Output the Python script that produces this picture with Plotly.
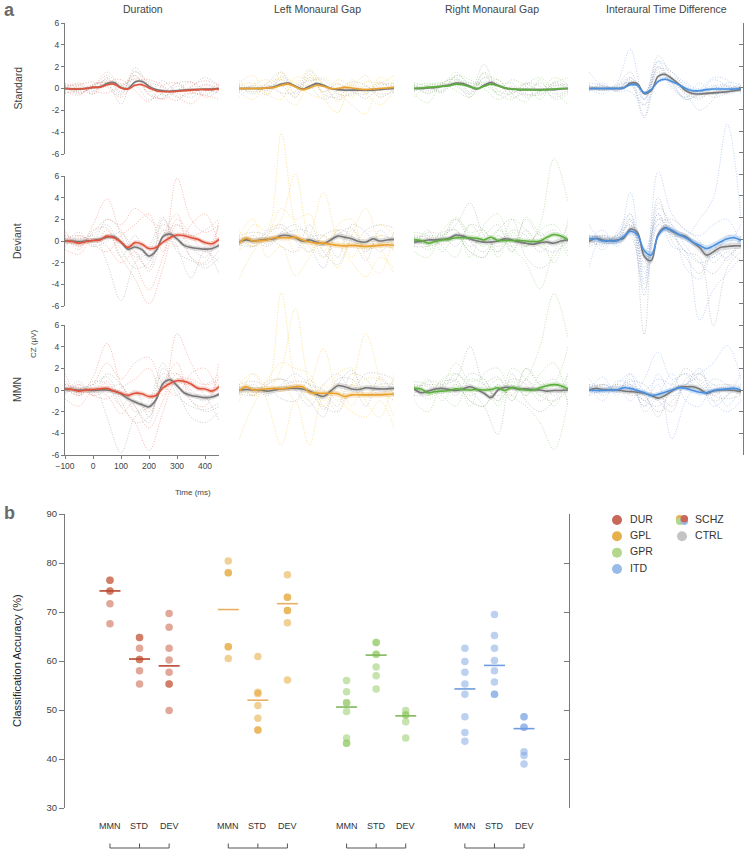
import plotly.graph_objects as go

W, H = 745, 850
FONT = "Liberation Sans, Arial, sans-serif"


def fx(p):
    return p / W


def fy(p):
    return 1 - p / H


# ---------------------------------------------------------------- panel a data
T_MEAN = list(range(-100, 451, 25))   # 23 samples for group means
T_IND = list(range(-100, 451, 50))    # 12 samples for single-subject traces

CONDS = ["DUR", "GPL", "GPR", "ITD"]
TITLES = ["Duration", "Left Monaural Gap", "Right Monaural Gap", "Interaural Time Difference"]
ROW_KEYS = ["STD", "DEV", "MMN"]
ROW_LABELS = ["Standard", "Deviant", "MMN"]
Y_TICKS = [-6, -4, -2, 0, 2, 4, 6]
X_TICKS = [-100, 0, 100, 200, 300, 400]

# group means (µV)
DUR_STD_SCHZ = [0, -0.05, -0.05, 0, 0.1, 0.12, 0.35, 0.4, 0.05, -0.05, 0.3, 0.35, 0.05, -0.2, -0.28, -0.3, -0.25, -0.2, -0.15, -0.1, -0.1, -0.1, -0.05]
DUR_STD_CTRL = [0, -0.05, -0.05, 0, 0.1, 0.15, 0.45, 0.55, 0.1, 0.0, 0.6, 0.65, 0.2, -0.1, -0.2, -0.25, -0.2, -0.15, -0.1, -0.1, -0.05, -0.05, 0.0]
DUR_DEV_SCHZ = [0, -0.05, -0.2, -0.05, 0.05, 0.1, 0.45, 0.3, -0.1, -0.6, -0.15, -0.3, -0.7, -0.6, -0.1, 0.3, 0.55, 0.5, 0.3, 0.15, -0.15, -0.25, 0.15]
DUR_DEV_CTRL = [0, 0, -0.05, 0, 0.05, 0.15, 0.35, 0.4, -0.1, -0.75, -0.55, -0.8, -1.4, -0.9, 0.4, 0.65, 0.2, -0.4, -0.6, -0.7, -0.75, -0.7, -0.4]
DUR_MMN_SCHZ = [0.1, 0.05, -0.1, 0.0, 0.05, 0.1, 0.15, -0.1, -0.3, -0.5, -0.3, -0.35, -0.6, -0.5, 0.2, 0.6, 0.85, 0.8, 0.55, 0.15, 0.1, -0.1, 0.3]
DUR_MMN_CTRL = [0.05, 0.05, 0.0, 0.0, -0.05, 0.0, 0.0, -0.1, -0.35, -0.8, -1.1, -1.35, -1.55, -0.9, 0.6, 0.95, 0.4, -0.25, -0.5, -0.6, -0.7, -0.65, -0.4]

GPL_STD_SCHZ = [0, 0, 0, 0, 0.05, 0.1, 0.3, 0.4, 0.15, -0.1, 0.05, 0.3, 0.2, 0.0, 0.0, 0.1, 0.05, -0.05, -0.1, -0.05, 0.0, 0.05, 0.1]
GPL_STD_CTRL = [0, 0, 0, 0, 0.05, 0.15, 0.4, 0.5, 0.2, -0.05, 0.2, 0.45, 0.3, 0.0, -0.1, -0.15, -0.15, -0.15, -0.15, -0.15, -0.1, -0.05, 0.0]
GPL_DEV_SCHZ = [-0.2, 0.25, 0.0, 0.05, 0.1, 0.3, 0.3, 0.3, 0.35, 0.1, -0.1, -0.2, -0.2, -0.3, -0.4, -0.45, -0.4, -0.45, -0.5, -0.45, -0.4, -0.35, -0.4]
GPL_DEV_CTRL = [-0.1, 0.1, 0.0, 0.1, 0.15, 0.2, 0.5, 0.5, 0.3, 0.0, 0.1, -0.1, -0.25, 0.1, 0.45, 0.35, 0.2, -0.05, -0.1, 0.2, 0.0, 0.1, 0.15]
GPL_MMN_SCHZ = [-0.1, 0.3, 0.0, 0.05, 0.1, 0.15, 0.1, 0.2, 0.3, 0.3, -0.2, -0.3, -0.3, -0.3, -0.35, -0.6, -0.45, -0.45, -0.45, -0.45, -0.45, -0.4, -0.4]
GPL_MMN_CTRL = [0.0, 0.05, 0.0, 0.0, -0.1, 0.0, 0.1, 0.15, 0.15, 0.1, -0.1, -0.4, -0.6, -0.1, 0.4, 0.3, 0.1, 0.05, 0.2, 0.15, 0.1, 0.1, 0.15]

GPR_STD_SCHZ = [0, 0.05, 0.1, 0.15, 0.2, 0.25, 0.4, 0.35, 0.15, 0.0, 0.2, 0.4, 0.25, 0.05, -0.05, -0.1, -0.1, -0.12, -0.15, -0.1, -0.05, 0.0, 0.0]
GPR_STD_CTRL = [0, 0, 0.05, 0.1, 0.2, 0.3, 0.5, 0.45, 0.2, -0.05, 0.3, 0.55, 0.3, 0.05, -0.05, -0.1, -0.1, -0.1, -0.1, -0.1, -0.1, -0.05, 0.0]
GPR_DEV_SCHZ = [0.1, 0.05, -0.2, -0.05, 0.1, 0.15, 0.3, 0.3, 0.3, 0.25, 0.1, 0.35, 0.05, 0.05, 0.05, 0.05, 0.0, -0.05, 0.0, 0.35, 0.6, 0.45, 0.1]
GPR_DEV_CTRL = [-0.1, -0.05, 0.1, 0.1, 0.15, 0.25, 0.55, 0.45, 0.2, 0.0, -0.1, -0.1, 0.0, 0.2, 0.1, -0.1, -0.2, -0.3, -0.15, -0.1, -0.2, 0.0, 0.1]
GPR_MMN_SCHZ = [0.15, 0.1, -0.25, -0.15, -0.1, -0.05, 0.1, 0.05, 0.0, 0.05, 0.0, 0.05, 0.2, -0.05, 0.25, 0.1, 0.0, 0.0, 0.2, 0.4, 0.5, 0.4, 0.1]
GPR_MMN_CTRL = [0.1, -0.25, -0.1, 0.1, 0.15, 0.05, -0.05, 0.1, 0.3, 0.05, -0.3, -0.7, 0.0, 0.25, 0.2, 0.1, 0.1, 0.05, 0.0, -0.1, -0.05, -0.05, 0.0]

ITD_STD_SCHZ = [0, 0, 0, 0, 0, 0.05, 0.35, 0.3, -0.4, -0.1, 0.65, 0.85, 0.65, 0.35, 0.0, -0.2, -0.2, -0.1, -0.05, -0.05, -0.05, -0.05, 0.0]
ITD_STD_CTRL = [0, 0, 0, 0, 0, 0.05, 0.5, 0.45, -0.45, -0.2, 1.1, 1.3, 0.9, 0.4, -0.2, -0.45, -0.5, -0.45, -0.4, -0.35, -0.3, -0.2, -0.1]
ITD_DEV_SCHZ = [0.2, 0.2, 0.0, 0.0, 0.0, 0.4, 0.9, 0.6, -0.9, -1.3, 0.5, 1.15, 1.0, 0.6, 0.3, -0.1, -0.4, -0.7, -0.45, -0.1, 0.2, 0.3, 0.05]
ITD_DEV_CTRL = [-0.05, 0.25, 0.1, 0.05, 0.1, 0.25, 1.1, 0.8, -1.4, -1.8, 0.6, 1.25, 0.9, 0.6, 0.4, -0.1, -0.6, -1.3, -1.0, -0.6, -0.5, -0.45, -0.45]
ITD_MMN_SCHZ = [0, -0.05, -0.05, 0.0, 0.0, 0.2, 0.15, -0.05, -0.25, -0.5, -0.4, -0.2, 0.0, 0.2, 0.15, -0.05, -0.2, -0.25, -0.05, 0.05, 0.1, 0.15, 0.0]
ITD_MMN_CTRL = [0, 0.15, 0.05, 0.0, 0.0, -0.1, -0.15, -0.2, -0.3, -0.5, -0.75, -0.5, -0.1, 0.25, 0.3, 0.3, 0.1, -0.3, -0.1, 0.0, 0.0, -0.05, -0.15]

# standard-error half widths of the shaded bands, per condition
SEM_STD = [0.12, 0.12, 0.12, 0.15]
SEM_DEV = [0.22, 0.25, 0.22, 0.3]
SEM_MMN = [0.22, 0.25, 0.22, 0.22]

# single-subject traces (dotted), sampled every 50 ms
DUR_STD_SCHZ_IND = [[0.3, -0.4, 0.2, 1.5, 0.4, 1.2, -0.6, -0.9, 0.5, -0.5, 0.3, -0.2],
                    [-0.5, 0.3, 0.6, 0.1, -0.8, 0.6, 0.8, 0.2, -0.7, -1.4, -0.3, 0.4],
                    [0.4, 0.1, -0.5, 1.0, -0.3, 1.6, 0.0, -1.0, -0.2, 0.6, -0.8, -0.1],
                    [-0.2, -0.6, 0.3, 0.6, 0.8, -0.2, -1.2, 0.3, 0.5, -0.3, -0.6, -1.0],
                    [0.1, 0.5, -0.2, -0.4, 0.2, 0.9, 0.4, -0.5, -1.1, 0.2, 0.7, 0.3]]
DUR_STD_CTRL_IND = [[0.2, 0.3, -0.3, 0.9, -0.5, 1.9, 0.3, -0.6, -0.3, 0.1, 1.0, 0.2],
                    [-0.4, -0.2, 0.4, 0.5, -1.4, 1.2, -0.3, 0.7, -0.4, -0.8, -0.2, -0.3],
                    [0.5, -0.3, 0.1, 1.2, 0.3, 0.8, -0.5, -0.9, 0.2, -0.2, 0.4, 0.0],
                    [-0.1, 0.4, -0.5, 0.2, -0.6, 1.5, 0.6, 0.1, -0.8, -0.4, -0.6, 0.3],
                    [0.2, -0.5, 0.3, 0.7, 0.2, 0.3, -1.0, -0.4, 0.5, 0.6, -0.1, -0.4]]
DUR_DEV_SCHZ_IND = [[0.5, -0.8, 1.5, 3.9, 0.5, -2.0, -4.5, -1.5, 2.0, 0.5, -1.0, 1.5],
                    [-0.5, 0.3, -0.5, 1.0, -1.5, -3.5, -5.8, -2.5, 1.5, 0.5, 1.0, 2.0],
                    [0.2, 0.5, -0.3, -1.0, 0.5, 1.5, 2.5, -1.0, 5.8, 2.0, 0.8, 1.5],
                    [1.0, -0.5, 0.8, 2.0, 1.5, 3.0, 2.0, 1.0, -0.5, 1.5, 2.5, -0.5],
                    [-0.8, -1.2, 0.2, -0.5, -2.0, -1.0, -2.8, 0.5, 2.5, -1.5, -2.0, 1.8]]
DUR_DEV_CTRL_IND = [[0.3, -0.5, 0.5, -2.0, -5.5, -2.0, -1.0, 1.5, 0.5, -1.5, -2.5, -1.5],
                    [-0.5, 0.5, 0.0, 2.0, 1.0, -1.0, -2.5, 2.0, -0.5, -3.4, -1.0, -2.0],
                    [0.8, -0.3, 1.0, 1.2, -1.5, 0.5, -1.8, 0.5, 1.5, -0.5, -1.5, 0.5],
                    [-0.2, 0.8, -0.5, 0.0, 0.8, -1.5, -0.5, 2.2, -1.0, -1.8, -2.2, -0.8],
                    [0.5, 0.2, 0.6, 1.5, -0.8, -2.5, -2.0, 1.0, 0.5, 0.5, -0.5, -3.0]]
DUR_MMN_SCHZ_IND = [[0.2, -0.5, 1.2, 4.3, 0.5, -1.5, -3.5, -1.0, 1.5, 0.0, -0.8, 1.2],
                    [-0.3, 0.5, -0.5, 0.8, -1.5, -3.0, -5.6, -2.0, 1.0, 1.0, 0.5, 1.5],
                    [0.5, 0.2, -0.5, -0.8, 0.2, 1.0, 2.0, -0.5, 5.2, 2.5, 0.5, 1.0],
                    [1.5, -0.5, 0.5, 2.5, 1.0, 2.5, 3.0, 0.5, -0.5, 1.5, 2.0, -0.5],
                    [-0.8, -1.5, 0.0, -0.5, -2.2, -1.0, -2.0, 0.5, 2.5, -1.0, -1.5, 2.5]]
DUR_MMN_CTRL_IND = [[0.2, -0.5, 0.5, -2.5, -5.8, -2.5, -1.5, 1.5, 0.5, -1.0, -2.0, -1.5],
                    [-0.5, 0.5, -0.3, 1.5, 0.5, -1.5, -3.0, 2.0, 0.0, -2.5, -3.0, -2.0],
                    [0.8, -0.3, 0.8, 0.5, -1.5, 0.0, -2.5, 1.0, 1.5, -0.3, -1.0, 0.5],
                    [-0.3, 0.8, -0.5, 0.0, 0.5, -2.0, -1.0, 2.5, -0.5, -1.5, -1.8, -1.2],
                    [0.5, 0.2, 0.5, 1.2, -1.0, -3.0, -2.5, 0.5, 0.5, 0.8, -0.5, -2.8]]

GPL_STD_SCHZ_IND = [[0.5, 1.2, -0.5, 1.5, 0.3, 1.8, -0.8, -2.2, 0.5, -0.5, 1.0, 0.3],
                    [-0.8, 0.3, 0.8, -0.5, -1.5, 0.5, 1.0, -0.3, -1.5, -2.3, 0.5, -0.5],
                    [0.8, -0.3, 0.2, 1.0, 0.5, -0.5, -0.8, 0.8, 0.3, 1.2, -0.8, 0.8],
                    [-0.3, -1.0, 0.5, 0.8, -0.8, 1.0, 0.5, -1.2, 0.8, -0.5, -1.5, -0.3],
                    [0.3, 0.5, -0.5, -1.0, 1.0, 0.8, -0.3, 0.5, -0.8, 0.6, 0.5, 1.2]]
GPL_STD_CTRL_IND = [[0.2, -0.3, 0.5, 1.5, -0.5, 1.3, -0.5, -0.8, 0.3, -0.3, 0.4, 0.2],
                    [-0.4, 0.3, -0.2, 0.8, 0.3, 0.7, 0.8, -0.5, -0.6, 0.2, -0.5, -0.3],
                    [0.3, -0.5, 0.2, 0.3, -0.8, 1.0, -0.3, 0.4, -0.2, -0.9, 0.2, 0.5],
                    [-0.2, 0.2, -0.6, 1.1, 0.2, 0.2, -1.0, -0.2, 0.6, 0.3, -0.8, -0.1],
                    [0.4, 0.0, 0.3, -0.4, -0.3, 1.6, 0.3, -1.0, -0.4, -0.5, 0.6, -0.4]]
GPL_DEV_SCHZ_IND = [[-1.0, 1.5, 1.0, 9.9, 1.5, -1.0, 0.5, -0.5, 1.0, -0.5, 0.5, -1.0],
                    [0.5, -0.5, 0.5, 2.0, 6.2, 0.0, -1.5, 1.0, -1.5, 0.5, 1.5, 0.5],
                    [-3.5, -1.0, 0.5, 1.5, -1.0, 0.5, 4.5, 0.0, -2.0, -3.3, -1.5, -2.5],
                    [0.5, 2.0, -1.5, -0.5, -3.2, -1.5, 0.0, -2.5, 0.5, 3.0, -0.5, -3.0],
                    [1.0, -0.5, 0.5, 3.0, 2.0, 2.5, -1.0, 1.5, 2.0, -1.5, -3.0, 1.0]]
GPL_DEV_CTRL_IND = [[0.2, -0.5, 1.0, 1.5, 0.5, -0.5, -2.5, 1.0, 0.5, -1.0, 0.5, 0.0],
                    [-0.5, 0.5, -0.3, 0.8, 1.5, 0.5, 0.5, -1.5, 1.5, 0.8, -1.0, 0.8],
                    [0.5, 0.8, 0.5, -0.5, -1.0, 1.5, -1.0, -2.2, 0.0, -1.8, 1.0, -0.5],
                    [-0.3, -0.5, 0.8, 1.2, 0.0, -1.0, 0.5, 1.0, -0.5, 1.0, 1.5, 1.2],
                    [0.3, 0.2, -0.5, 0.5, 1.0, 0.8, -1.5, 0.5, 1.2, -0.8, -0.3, -0.8]]
GPL_MMN_SCHZ_IND = [[-1.0, 1.5, 0.5, 9.0, 1.0, -1.0, 0.5, -1.0, 0.5, -0.5, 1.0, -0.5],
                    [0.5, -0.5, 0.0, 2.0, 7.5, 0.5, -1.5, 0.5, -1.5, 1.0, 1.0, 0.0],
                    [-4.6, -1.5, 0.5, 1.0, -1.0, 0.5, 3.8, -0.5, -2.0, -2.5, -1.0, -3.5],
                    [0.5, 1.5, -1.0, -5.1, -1.0, -5.1, -0.5, -2.0, 0.5, 5.2, 1.0, -2.5],
                    [1.0, -0.5, 1.0, 2.5, 2.0, 1.5, -1.0, 1.5, 2.0, -1.0, -2.5, 1.5]]
GPL_MMN_CTRL_IND = [[0.3, -0.5, 0.8, 1.0, 0.5, -1.0, -2.5, 1.0, 1.0, -0.5, 0.5, 0.5],
                    [-0.5, 0.5, -0.3, 0.5, 1.5, 0.5, 0.0, -1.5, 1.5, 1.0, -0.5, 1.0],
                    [0.5, 0.8, 0.3, -0.8, -1.0, 1.0, -1.5, -2.0, 0.5, -1.5, 1.2, -0.5],
                    [-0.3, -0.5, 0.5, 1.0, 0.0, -1.5, 0.5, 1.5, 0.0, 1.5, 1.5, 1.0],
                    [0.3, 0.2, -0.5, 0.3, 0.8, 0.5, -1.8, 0.5, 1.8, -0.5, -0.3, -1.0]]

GPR_STD_SCHZ_IND = [[0.2, 0.5, 0.3, 1.5, 0.2, 0.5, -0.5, -1.0, 0.3, 1.0, -0.2, -1.5],
                    [-0.5, -1.3, 0.5, 0.8, -0.5, 1.5, 0.3, 0.5, -0.8, -0.3, 1.0, 0.3],
                    [0.5, 0.2, -0.3, 1.2, 0.8, 0.0, -1.0, -0.3, 0.5, -0.5, 0.5, 1.0],
                    [-0.8, 0.3, 0.5, -0.2, -0.8, 1.0, 0.8, -0.5, -1.2, 0.8, -1.0, -0.5],
                    [0.3, -0.5, 0.2, 0.6, 0.5, 0.3, -0.3, 0.8, 0.2, -1.0, 0.6, 0.2]]
GPR_STD_CTRL_IND = [[0.1, 0.3, 0.5, 1.0, -0.3, 2.2, -0.2, -0.5, 0.4, -0.2, 0.3, 0.1],
                    [-0.3, 0.2, -0.2, 1.2, 0.5, 0.6, 0.5, -0.8, -0.3, 0.5, -0.5, -0.2],
                    [0.4, -0.2, 0.4, 0.2, -0.5, 1.4, -0.6, 0.2, -0.5, -0.6, 0.2, 0.4],
                    [-0.2, 0.1, -0.4, 0.8, 0.3, 0.4, 0.8, -0.4, 0.5, 0.2, -0.8, -0.3],
                    [0.3, -0.4, 0.3, 0.4, -0.8, 1.0, 0.2, -0.2, -0.6, -0.3, 0.5, 0.0]]
GPR_DEV_SCHZ_IND = [[0.5, -0.5, 1.0, 2.0, 0.5, -0.5, 1.0, 0.0, -0.5, 1.5, 7.6, 3.6],
                    [-1.0, -1.5, 0.5, 1.0, -1.5, 1.5, 2.5, -0.5, -2.0, -4.4, -1.0, 0.5],
                    [0.8, 0.5, -0.5, -1.5, 1.5, 0.0, -1.0, 2.0, 1.0, -0.5, 0.5, -1.5],
                    [-0.5, 1.0, -1.0, 0.5, -1.0, -1.5, 0.5, -1.0, 2.2, 0.5, -2.0, 2.0],
                    [0.3, -0.8, 0.3, 2.2, 0.8, 1.0, -1.5, 0.8, -0.5, 1.0, 1.5, -0.5]]
GPR_DEV_CTRL_IND = [[0.3, 0.5, 0.5, 1.5, 3.5, 0.5, -0.5, 1.0, 0.5, -1.0, 0.0, 0.5],
                    [-0.5, -0.5, 0.0, 2.0, 0.0, -1.0, 1.0, 2.0, -1.5, -2.5, -1.5, 0.8],
                    [0.5, 0.3, -0.3, 0.5, -1.0, -1.5, 0.5, -0.5, 2.0, 0.5, 1.0, -1.0],
                    [-0.3, 0.8, 0.5, -0.5, 1.5, 1.0, -1.0, 0.5, -0.5, 0.8, -0.5, 1.5],
                    [0.2, -0.3, 0.8, 1.0, -0.5, 0.5, 1.5, -1.0, 1.0, -0.5, -1.0, 0.0]]
GPR_MMN_SCHZ_IND = [[0.5, -0.5, 1.0, 1.5, 0.5, 0.0, 1.0, 0.0, 1.0, 4.0, 8.9, 4.8],
                    [-1.0, -2.0, 0.5, 1.0, -1.5, 1.5, 2.0, -0.5, -1.5, -3.0, -5.5, -1.0],
                    [0.8, 0.5, -0.5, -1.5, 1.0, 0.5, -1.0, 2.0, 1.0, -0.5, 0.5, 4.0],
                    [-0.5, 1.0, -1.0, 0.5, -1.0, -1.5, 0.5, -1.0, 2.0, 0.5, -1.5, 1.5],
                    [0.3, -0.8, 0.3, 2.5, 0.8, 1.0, -1.5, 0.8, -0.5, 1.5, 2.5, -1.5]]
GPR_MMN_CTRL_IND = [[0.3, 0.5, 0.5, 1.0, 4.0, 0.5, -0.5, 1.0, 0.5, -1.0, 0.0, 0.5],
                    [-0.5, -0.5, 0.0, 1.5, 0.0, -1.5, -4.1, 1.5, -1.0, -2.0, -1.0, 0.8],
                    [0.5, 0.3, -0.3, 0.5, -1.0, -1.5, 0.5, -0.5, 2.0, 0.5, 1.0, -1.0],
                    [-0.3, 0.8, 0.5, -0.5, 1.5, 1.0, -1.0, 0.5, -0.5, 0.8, -0.5, 1.5],
                    [0.2, -0.3, 0.8, 0.8, -0.5, 0.5, 1.2, -1.0, 1.0, -0.5, -1.0, 0.0]]

ITD_STD_SCHZ_IND = [[0.3, -0.2, 0.5, 3.6, -1.0, 1.5, 0.5, -1.0, -0.5, 0.8, 0.2, -0.3],
                    [1.5, 0.2, 0.0, 0.5, -2.7, 1.0, 0.5, -0.5, -2.0, -1.0, 0.5, 0.3],
                    [-0.3, 0.5, -0.3, 1.0, -0.5, 2.5, 1.5, 0.5, 0.0, 1.0, 0.8, -0.5],
                    [0.0, -0.5, 0.3, 0.5, -1.0, 2.0, 0.0, -0.8, 0.5, -0.5, -0.2, 0.5],
                    [0.5, 0.3, -0.2, -0.3, -1.5, 0.5, 1.0, 0.3, -0.3, 0.3, -0.5, 0.0]]
ITD_STD_CTRL_IND = [[0.2, 0.0, 0.3, 1.5, -1.0, 3.0, 1.0, -0.5, -0.8, -0.3, 0.0, 0.2],
                    [-0.2, 0.3, -0.2, 0.8, -2.5, 2.0, 0.5, -1.0, -0.5, -0.5, -0.3, -0.2],
                    [0.1, -0.2, 0.2, 1.0, -0.5, 1.8, 1.5, 0.0, -1.0, 0.2, 0.3, 0.0],
                    [0.0, 0.2, 0.0, 0.3, -1.5, 2.5, 0.2, -0.8, -0.2, -0.8, -0.4, 0.3],
                    [0.3, -0.1, 0.1, 0.6, -0.3, 1.2, 0.8, -0.3, -0.6, 0.0, 0.2, -0.3]]
ITD_DEV_SCHZ_IND = [[0.5, -0.5, 0.5, 1.5, -1.0, 2.0, 1.0, 0.5, 2.0, 4.0, 10.8, 2.0],
                    [-2.4, 0.5, 0.0, 4.5, -3.0, 1.5, 0.5, -1.0, -2.0, -1.5, -0.5, 1.5],
                    [1.5, 0.0, 0.5, 2.0, -4.0, 6.4, 2.5, 1.0, 0.5, 1.5, 2.0, -0.5],
                    [0.0, 1.0, -0.5, 1.0, -5.0, 3.0, 1.5, -2.5, -3.5, -1.0, -1.5, 0.5],
                    [0.5, -0.8, 0.8, 2.5, -2.0, 2.5, -0.5, -1.0, -7.3, -4.5, -3.0, -1.5]]
ITD_DEV_CTRL_IND = [[0.3, 0.5, 0.5, 2.5, -8.6, 2.0, 1.5, -0.5, -2.0, -3.0, -1.5, -0.5],
                    [-0.5, 0.0, 0.3, 1.5, -3.5, 3.5, 1.0, -1.0, -1.5, -7.8, -2.5, -1.0],
                    [0.2, 0.5, 0.0, 2.0, -2.5, 2.5, 0.5, 0.5, -1.0, -1.5, 0.5, 0.0],
                    [0.0, -0.3, 0.5, 0.5, -4.5, 1.5, 2.0, 1.0, 0.0, -2.0, -1.0, -2.0],
                    [0.5, 0.3, -0.2, 1.8, -1.5, 4.0, 0.0, -1.5, -3.0, -0.5, -1.8, 0.5]]
ITD_MMN_SCHZ_IND = [[0.5, -0.5, 0.5, 1.5, 0.0, 1.0, 0.5, 0.5, 1.5, 2.5, 4.1, 1.0],
                    [-0.5, 0.5, 0.0, 1.0, -1.0, 0.5, -4.5, -1.0, 0.5, -1.5, -0.5, 1.5],
                    [1.0, 0.0, 0.5, -1.0, 1.0, 3.5, 1.0, 1.5, -0.5, 1.0, 0.5, -0.5],
                    [0.0, 1.2, -0.5, 1.5, -2.0, -0.5, 1.5, -1.0, -1.5, 0.5, -1.5, 0.5],
                    [0.5, -1.0, 0.8, 0.5, -1.5, 1.5, -0.5, 0.5, 2.0, -1.0, -2.0, -1.0]]
ITD_MMN_CTRL_IND = [[0.3, 0.5, 0.3, 0.5, -1.5, -0.5, -1.5, 0.5, 1.0, -0.5, 0.3, -0.5],
                    [-0.5, 0.0, 0.3, -0.5, -0.5, -2.5, 0.5, 1.5, 0.5, -1.0, -0.5, 0.5],
                    [0.2, 0.5, 0.0, 0.8, 0.5, -1.0, -2.0, 1.0, 1.5, 0.5, 0.5, 0.0],
                    [0.0, -0.3, 0.5, 0.0, -1.0, -1.5, 0.0, 2.0, 0.8, -0.5, -0.8, -0.5],
                    [0.5, 0.3, -0.2, 0.5, -0.5, -2.0, -1.0, 0.5, 1.5, 0.0, 0.5, 0.3]]

# ---------------------------------------------------------------- panel b data
CATS = ["MMN", "STD", "DEV"]
DUR_MMN = [76.5, 76.5, 74.3, 74.3, 71.7, 67.6]
DUR_STD = [64.8, 64.8, 62.6, 60.3, 60.3, 58.0, 55.3]
DUR_DEV = [69.7, 66.9, 62.6, 60.2, 57.7, 55.3, 55.3, 49.9]
DUR_MEAN = [74.3, 60.4, 59.0]
GPL_MMN = [80.4, 78.0, 78.0, 62.9, 62.9, 60.5]
GPL_STD = [60.9, 53.6, 53.3, 50.9, 48.3, 45.9, 45.9]
GPL_DEV = [77.6, 73.0, 73.0, 70.3, 70.3, 67.8, 56.1]
GPL_MEAN = [70.5, 52.0, 71.7]
GPR_MMN = [56.0, 53.7, 51.5, 51.5, 49.7, 44.3, 43.2, 43.2]
GPR_STD = [63.8, 63.8, 61.4, 61.4, 58.8, 57.0, 54.3]
GPR_DEV = [49.9, 49.0, 49.0, 47.6, 44.3]
GPR_MEAN = [50.6, 61.2, 48.8]
ITD_MMN = [62.6, 59.9, 57.7, 55.3, 53.2, 48.6, 45.4, 43.6]
ITD_STD = [69.5, 65.2, 62.6, 60.1, 58.0, 55.7, 53.2, 53.2]
ITD_DEV = [48.6, 48.6, 46.5, 46.5, 41.5, 40.7, 39.0]
ITD_MEAN = [54.3, 59.1, 46.2]
ACC_TICKS = [30, 40, 50, 60, 70, 80, 90]
LEGEND_COND = ["DUR", "GPL", "GPR", "ITD"]
LEGEND_GROUP = ["SCHZ", "CTRL"]

# ---------------------------------------------------------------- styling
MEAN_COL = {"DUR": "#e0533a", "GPL": "#e9a22f", "GPR": "#5bae3d", "ITD": "#4a8fe0"}
BAND_COL = {"DUR": "rgba(224,83,58,0.25)", "GPL": "rgba(233,162,47,0.28)",
            "GPR": "rgba(91,174,61,0.25)", "ITD": "rgba(74,143,224,0.25)"}
IND_COL = {"DUR": "rgba(236,110,90,0.55)", "GPL": "rgba(246,206,80,0.65)",
           "GPR": "rgba(130,195,100,0.55)", "ITD": "rgba(120,160,230,0.55)"}
CTRL_MEAN = "#787878"
CTRL_BAND = "rgba(150,150,150,0.3)"
CTRL_IND = "rgba(140,140,140,0.5)"
DOT_DASH = "1px,1.6px"
DOT_COL = {"DUR": "rgba(196,82,52,0.5)", "GPL": "rgba(228,162,44,0.5)",
           "GPR": "rgba(142,200,92,0.5)", "ITD": "rgba(122,162,226,0.5)"}
MEANLINE_COL = {"DUR": "#b8452e", "GPL": "#e8b063", "GPR": "#7fb85a", "ITD": "#6f9be0"}
LEG_COL = {"DUR": "#c9675a", "GPL": "#e6b04c", "GPR": "#b3d78c", "ITD": "#98bbe8"}
AXC = "#7a7a7a"
TXT = "#444444"

COL_PX = [(65, 219), (239, 394), (414, 568), (589, 741)]
ROW_PX = [(23, 154), (176, 306), (325, 455)]
DATA_PX = (4, 486)

g = globals()
fig = go.Figure()
LAY = {}
_n = [0]


def new_pair(xdom, ydom, xrange, yrange, xkw=None, ykw=None):
    _n[0] += 1
    n = _n[0]
    sx = "" if n == 1 else str(n)
    xa = dict(domain=xdom, range=xrange, anchor="y" + sx, visible=False, automargin=False,
              showgrid=False, zeroline=False, fixedrange=True)
    ya = dict(domain=ydom, range=yrange, anchor="x" + sx, visible=False, automargin=False,
              showgrid=False, zeroline=False, fixedrange=True)
    xa.update(xkw or {})
    ya.update(ykw or {})
    LAY["xaxis" + sx] = xa
    LAY["yaxis" + sx] = ya
    return "x" + sx, "y" + sx


def empty(xr, yr):
    fig.add_trace(go.Scatter(x=[None], y=[None], xaxis=xr, yaxis=yr,
                             showlegend=False, hoverinfo="skip"))


SEMS = {"STD": SEM_STD, "DEV": SEM_DEV, "MMN": SEM_MMN}
spline = dict(shape="spline", smoothing=1.0)

# ---------------------------------------------------------------- panel a
for r, rk in enumerate(ROW_KEYS):
    T, B = ROW_PX[r]
    s = 12.0 / (B - T)
    yr = [6 - (DATA_PX[1] - T) * s, 6 + (T - DATA_PX[0]) * s]
    for c, cond in enumerate(CONDS):
        x0, x1 = COL_PX[c]
        xa, ya = new_pair([fx(x0), fx(x1)], [fy(DATA_PX[1]), fy(DATA_PX[0])],
                          [-100, 450], yr)
        ctrl_ind = g[f"{cond}_{rk}_CTRL_IND"]
        schz_ind = g[f"{cond}_{rk}_SCHZ_IND"]
        for tr in ctrl_ind:
            fig.add_trace(go.Scatter(x=T_IND, y=tr, mode="lines", xaxis=xa, yaxis=ya,
                                     line=dict(color=CTRL_IND, width=0.9, dash=DOT_DASH, **spline),
                                     showlegend=False, hoverinfo="skip"))
        for tr in schz_ind:
            fig.add_trace(go.Scatter(x=T_IND, y=tr, mode="lines", xaxis=xa, yaxis=ya,
                                     line=dict(color=IND_COL[cond], width=0.9, dash=DOT_DASH, **spline),
                                     showlegend=False, hoverinfo="skip"))
        sem = SEMS[rk][c]
        for grp, bcol in (("CTRL", CTRL_BAND), ("SCHZ", BAND_COL[cond])):
            m = g[f"{cond}_{rk}_{grp}"]
            up = [v + sem for v in m]
            lo = [v - sem for v in m]
            fig.add_trace(go.Scatter(x=T_MEAN, y=up, mode="lines", xaxis=xa, yaxis=ya,
                                     line=dict(width=0, color=bcol, **spline),
                                     showlegend=False, hoverinfo="skip"))
            fig.add_trace(go.Scatter(x=T_MEAN, y=lo, mode="lines", xaxis=xa, yaxis=ya,
                                     fill="tonexty", fillcolor=bcol,
                                     line=dict(width=0, color=bcol, **spline),
                                     showlegend=False, hoverinfo="skip"))
        for grp, mcol in (("CTRL", CTRL_MEAN), ("SCHZ", MEAN_COL[cond])):
            m = g[f"{cond}_{rk}_{grp}"]
            fig.add_trace(go.Scatter(x=T_MEAN, y=m, mode="lines", xaxis=xa, yaxis=ya,
                                     line=dict(color=mcol, width=1.6, **spline),
                                     showlegend=False, hoverinfo="skip"))

# visible axes of the first column
tickfont = dict(size=8.5, color=TXT, family=FONT)
for r in range(3):
    T, B = ROW_PX[r]
    xkw = {}
    if r == 2:
        xkw = dict(visible=True, tickvals=X_TICKS, ticks="outside", ticklen=3,
                   tickcolor=AXC, showline=True, linecolor=AXC, linewidth=1,
                   tickfont=tickfont)
    ykw = dict(visible=True, tickvals=Y_TICKS, ticktext=[str(v) for v in Y_TICKS],
               ticks="outside", ticklen=3, tickcolor=AXC, showline=True,
               linecolor=AXC, linewidth=1, tickfont=tickfont)
    xa, ya = new_pair([fx(COL_PX[0][0]), fx(COL_PX[0][1])], [fy(B), fy(T)],
                      [-100, 450], [-6, 6], xkw, ykw)
    empty(xa, ya)

# right-hand tick rail of the last column
xa, ya = new_pair([fx(COL_PX[3][0]), fx(743)], [fy(ROW_PX[2][1]), fy(ROW_PX[0][0])],
                  [0, 1], [0, 20], None,
                  dict(visible=True, side="right", tickmode="linear", tick0=0, dtick=1,
                       ticks="inside", ticklen=4, tickcolor=AXC, showline=True,
                       linecolor=AXC, linewidth=1, showticklabels=False))
empty(xa, ya)

# ---------------------------------------------------------------- panel b
BX0, BX1, BY0, BY1 = 65, 569, 514, 808
xb, yb = new_pair([fx(BX0), fx(BX1)], [fy(BY1), fy(BY0)], [-1.52, 15.52], [30, 90], None,
                  dict(visible=True, tickvals=ACC_TICKS, ticks="outside", ticklen=5,
                       tickcolor=AXC, showline=True, linecolor=AXC, linewidth=1,
                       tickfont=dict(size=9.5, color=TXT, family=FONT)))
_n[0] += 1
yb2 = f"y{_n[0]}"
LAY[f"yaxis{_n[0]}"] = dict(overlaying=yb, anchor=xb, side="right", range=[30, 90],
                            tickvals=ACC_TICKS, ticks="inside", ticklen=5, tickcolor=AXC,
                            showline=True, linecolor=AXC, linewidth=1, automargin=False,
                            showticklabels=False, showgrid=False, zeroline=False,
                            fixedrange=True)
empty(xb, yb2)

shapes = []
annotations = []
for gi, cond in enumerate(CONDS):
    base = gi * 4
    for k, cat in enumerate(CATS):
        vals = g[f"{cond}_{cat}"]
        fig.add_trace(go.Scatter(x=[base + k] * len(vals), y=vals, mode="markers",
                                 xaxis=xb, yaxis=yb,
                                 marker=dict(size=7.5, color=DOT_COL[cond], line=dict(width=0)),
                                 showlegend=False, hoverinfo="skip"))
        fig.add_trace(go.Scatter(x=[base + k], y=[g[f"{cond}_MEAN"][k]], mode="markers",
                                 xaxis=xb, yaxis=yb,
                                 marker=dict(symbol="line-ew", size=15,
                                             line=dict(color=MEANLINE_COL[cond], width=1.6)),
                                 showlegend=False, hoverinfo="skip"))
        annotations.append(dict(x=base + k, y=fy(833), xref=xb, yref="paper", text=cat,
                                showarrow=False, font=dict(size=9, color="#333", family=FONT)))
        shapes.append(dict(type="line", xref=xb, yref="paper", x0=base + k, x1=base + k,
                           y0=fy(848), y1=fy(843.5), line=dict(color="#555", width=1)))
    shapes.append(dict(type="line", xref=xb, yref="paper", x0=base, x1=base + 2,
                       y0=fy(848), y1=fy(848), line=dict(color="#555", width=1)))

# legend of panel b
xl, yl = new_pair([fx(600), fx(745)], [fy(580), fy(510)], [-0.2615, 1.969], [-3.674, 0.612])
for i, cond in enumerate(LEGEND_COND):
    fig.add_trace(go.Scatter(x=[0], y=[-i], mode="markers+text", xaxis=xl, yaxis=yl,
                             marker=dict(size=10, color=LEG_COL[cond]),
                             text=["  " + cond], textposition="middle right",
                             textfont=dict(size=10.5, color="#333", family=FONT),
                             showlegend=False, hoverinfo="skip", cliponaxis=False))
schz_parts = [("GPL", -0.035, 0.07), ("GPR", -0.035, -0.07), ("ITD", 0.035, -0.07),
              ("DUR", 0.035, 0.07)]
for cond, dx, dy in schz_parts:
    fig.add_trace(go.Scatter(x=[1 + dx], y=[dy], mode="markers", xaxis=xl, yaxis=yl,
                             marker=dict(size=7.5, color=LEG_COL[cond]),
                             showlegend=False, hoverinfo="skip", cliponaxis=False))
fig.add_trace(go.Scatter(x=[1, 1], y=[0, -1], mode="markers+text", xaxis=xl, yaxis=yl,
                         marker=dict(size=10, color=["rgba(0,0,0,0)", "#c4c4c4"]),
                         text=["  " + LEGEND_GROUP[0], "  " + LEGEND_GROUP[1]],
                         textposition="middle right",
                         textfont=dict(size=10.5, color="#333", family=FONT),
                         showlegend=False, hoverinfo="skip", cliponaxis=False))


# ---------------------------------------------------------------- texts
def txt(x, y, s, size, color=TXT, angle=0, bold=False, xanchor="center"):
    annotations.append(dict(x=fx(x), y=fy(y), xref="paper", yref="paper",
                            text=f"<b>{s}</b>" if bold else s, showarrow=False,
                            textangle=angle, xanchor=xanchor, yanchor="middle",
                            font=dict(size=size, color=color, family=FONT)))


txt(2, 10, "a", 18, "#6a6a6a", bold=True, xanchor="left")
txt(2, 513, "b", 18, "#6a6a6a", bold=True, xanchor="left")
for c, t in enumerate(TITLES):
    txt((COL_PX[c][0] + COL_PX[c][1]) / 2 + 1, 9, t, 10.5)
for r, lab in enumerate(ROW_LABELS):
    txt(17, (ROW_PX[r][0] + ROW_PX[r][1]) / 2, lab, 10.5, angle=-90)
txt(33, 344, "CZ (µV)", 8, angle=-90)
txt(193, 492, "Time (ms)", 8)
txt(17, 661, "Classification Accuracy (%)", 11, "#222", angle=-90)

fig.update_layout(
    width=W, height=H, autosize=False,
    margin=dict(l=0, r=0, t=0, b=0, pad=0, autoexpand=False),
    paper_bgcolor="white", plot_bgcolor="rgba(0,0,0,0)",
    showlegend=False, hovermode=False,
    font=dict(family=FONT, color=TXT),
    shapes=shapes, annotations=annotations,
    **LAY,
)

# remove the browser's default 8px body margin so the figure sits at the window origin
fig.write_html("out.html", config={"displayModeBar": False, "responsive": False},
               post_script="document.body.style.margin='0';document.body.style.overflow='hidden';")
